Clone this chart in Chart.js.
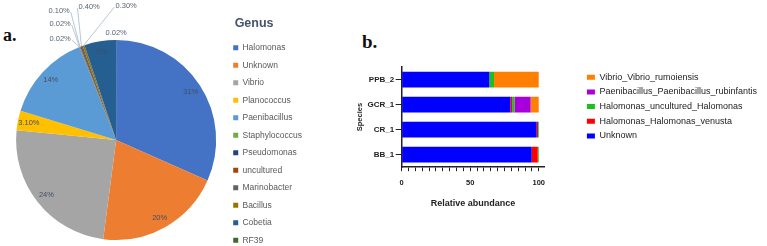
<!DOCTYPE html>
<html>
<head>
<meta charset="utf-8">
<script src="https://cdn.jsdelivr.net/npm/chart.js@4.4.1/dist/chart.umd.min.js"></script>
<style>
  html, body { margin: 0; padding: 0; background: #fff; }
  body { width: 767px; height: 246px; overflow: hidden; position: relative; }
  canvas { position: absolute; }
  .letra { position: absolute; font-family: "Liberation Serif", "Times New Roman", serif; font-weight: bold; color: #111; line-height: 1; }
</style>
</head>
<body>
<div class="letra" id="letra-a" style="left:3px; top:26px; font-size:18px;">a.</div>
<div class="letra" id="letra-b" style="left:362px; top:32px; font-size:19px;">b.</div>
<canvas id="graficoPizza" width="312" height="280" style="left:0; top:0;"></canvas>
<canvas id="graficoBarras" width="412" height="246" style="left:355px; top:0;"></canvas>

<script>
// ======================
// DADOS
// ======================

// a. composição por gênero (%)
const generos = ["Halomonas", "Unknown", "Vibrio", "Planococcus", "Paenibacillus", "Staphylococcus",
  "Pseudomonas", "uncultured", "Marinobacter", "Bacillus", "Cobetia", "RF39"];
const percentuais = [31, 20, 24, 3.1, 14, 0.02, 0.02, 0.1, 0.4, 0.3, 5, 0.02];
const coresGeneros = ["#4472C4", "#ED7D31", "#A5A5A5", "#FFC000", "#5B9BD5", "#70AD47",
  "#264478", "#9E480E", "#636363", "#997300", "#255E91", "#43682B"];

// b. abundância relativa por amostra (%)
const especies = ["PPB_2", "GCR_1", "CR_1", "BB_1"];
const unknown = [64, 79.4, 98.5, 94.9];
const halomonasVenusta = [0, 1.2, 1, 4.4];
const halomonasUncultured = [3.4, 1.7, 0.5, 0.7];
const paenibacillusRubinfantis = [0, 11.8, 0, 0];
const vibrioRumoiensis = [32.6, 5.9, 0, 0];
const ticksX = [0, 50, 100];

Chart.defaults.font.family = '"Liberation Sans", Arial, sans-serif';

// ======================
// Rótulos da pizza
// ======================

// rótulos pequenos ficam fora da pizza (deslocamento em px a partir do centro)
const rotulosFora = {
  5: { dx: -56, dy: -101, lado: "direita" },
  6: { dx: -56, dy: -116, lado: "direita" },
  7: { dx: -57, dy: -129, lado: "direita" },
  8: { dx: -27, dy: -133, lado: "esquerda" },
  9: { dx: 10, dy: -134, lado: "esquerda" },
  11: { dx: 0, dy: -107, lado: null }
};

function formatarPct(v) {
  return Number.isInteger(v) ? `${v}%` : `${v.toFixed(2)}%`;
}

const rotulosPizza = {
  id: "rotulosPizza",
  afterDatasetsDraw(chart) {
    const ctx = chart.ctx;
    const meta = chart.getDatasetMeta(0);
    ctx.save();
    ctx.font = '7.5px "Liberation Sans", Arial, sans-serif';
    ctx.textBaseline = "middle";
    meta.data.forEach((arco, i) => {
      const { x, y, startAngle, endAngle, outerRadius } =
        arco.getProps(["x", "y", "startAngle", "endAngle", "outerRadius"], true);
      const meio = (startAngle + endAngle) / 2;
      const texto = formatarPct(percentuais[i]);
      const fora = rotulosFora[i];
      if (!fora) {
        const r = outerRadius * 0.89;
        ctx.textAlign = "center";
        ctx.fillStyle = "#404f63";
        ctx.fillText(texto, x + Math.cos(meio) * r, y + Math.sin(meio) * r);
        return;
      }
      const tx = x + fora.dx;
      const ty = y + fora.dy;
      const largura = ctx.measureText(texto).width;
      if (fora.lado) {
        const ax = fora.lado === "direita" ? tx + largura / 2 + 1 : tx - largura / 2 - 1;
        ctx.strokeStyle = "#a9b7cc";
        ctx.lineWidth = 0.8;
        ctx.beginPath();
        ctx.moveTo(ax, ty + 1);
        ctx.lineTo(x + Math.cos(meio) * outerRadius, y + Math.sin(meio) * outerRadius);
        ctx.stroke();
      }
      ctx.textAlign = "center";
      ctx.fillStyle = "#5a6475";
      ctx.fillText(texto, tx, ty);
    });
    ctx.restore();
  }
};

// ======================
// a. GRÁFICO DE PIZZA
// ======================

new Chart(document.getElementById("graficoPizza"), {
  type: "pie",
  data: {
    labels: generos,
    datasets: [{
      data: percentuais,
      backgroundColor: coresGeneros,
      borderWidth: 0,
      radius: 100
    }]
  },
  options: {
    responsive: false,
    animation: false,
    layout: { padding: { left: 8 } },
    plugins: {
      tooltip: { enabled: false },
      legend: {
        position: "right",
        align: "start",
        title: {
          display: true,
          text: "   Genus",
          position: "start",
          color: "#44546A",
          font: { size: 12.5, weight: "bold" },
          padding: { top: 17.5, bottom: 2 }
        },
        labels: {
          boxWidth: 5,
          boxHeight: 5,
          padding: 9,
          color: "#595959",
          font: { size: 8.5 }
        }
      }
    }
  },
  plugins: [rotulosPizza]
});

// ======================
// b. GRÁFICO DE BARRAS EMPILHADAS
// ======================

new Chart(document.getElementById("graficoBarras"), {
  type: "bar",
  data: {
    labels: especies,
    datasets: [
      { label: "Unknown", data: unknown, backgroundColor: "#0000FF" },
      { label: "Halomonas_Halomonas_venusta", data: halomonasVenusta, backgroundColor: "#FF0000" },
      { label: "Halomonas_uncultured_Halomonas", data: halomonasUncultured, backgroundColor: "#1DBF1D" },
      { label: "Paenibacillus_Paenibacillus_rubinfantis", data: paenibacillusRubinfantis, backgroundColor: "#A800DC" },
      { label: "Vibrio_Vibrio_rumoiensis", data: vibrioRumoiensis, backgroundColor: "#FF8000" }
    ]
  },
  options: {
    indexAxis: "y",
    responsive: false,
    animation: false,
    datasets: { bar: { categoryPercentage: 1, barPercentage: 0.63, borderWidth: 0 } },
    layout: { padding: { top: 67, bottom: 35, left: 0, right: 0 } },
    scales: {
      x: {
        stacked: true,
        min: 0,
        max: 104,
        border: { display: true, color: "#222", width: 1.5 },
        grid: { drawOnChartArea: false, drawTicks: true, tickLength: 4, color: "#222", tickWidth: 1 },
        ticks: {
          stepSize: 5,
          includeBounds: false,
          autoSkip: false,
          maxRotation: 0,
          padding: 7.5,
          color: "#222",
          font: { size: 7.5, weight: "bold" },
          callback: (v) => ticksX.includes(v) ? v : ""
        },
        title: {
          display: true,
          text: "Relative abundance",
          color: "#222",
          font: { size: 9, weight: "bold" },
          padding: { top: 3, bottom: 2 }
        }
      },
      y: {
        stacked: true,
        border: { display: true, color: "#222", width: 1.5 },
        grid: { drawOnChartArea: false, offset: false, tickLength: 6, color: "#222" },
        ticks: { padding: 1.5, color: "#222", font: { size: 8, weight: "bold" } },
        title: {
          display: true,
          text: "Species",
          color: "#222",
          font: { size: 7.5, weight: "bold" },
          padding: { top: 0, bottom: 2 }
        }
      },
      // espaço vazio entre o eixo e a legenda
      espaco: {
        type: "linear",
        axis: "y",
        position: "right",
        grid: { display: false },
        border: { display: false },
        ticks: { display: false },
        afterFit: (s) => { s.width = 37; }
      }
    },
    plugins: {
      tooltip: { enabled: false },
      legend: {
        position: "right",
        align: "start",
        reverse: true,
        maxWidth: 240,
        labels: {
          boxWidth: 8,
          boxHeight: 5,
          padding: 5.7,
          color: "#222",
          font: { size: 9 }
        }
      }
    }
  }
});
</script>
</body>
</html>
